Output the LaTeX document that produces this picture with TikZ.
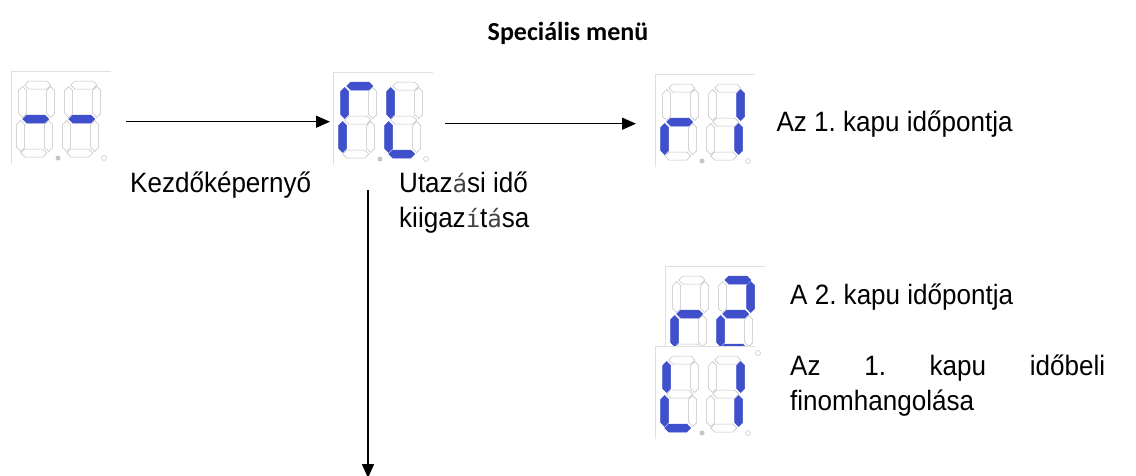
\documentclass[tikz,border=0pt]{standalone}
\usepackage{fontspec}
\setmainfont{Liberation Sans}[FakeStretch=0.93]
\newfontfamily\titlefont{Carlito}
\newfontfamily\oddfont{DejaVu Sans Mono}
\usepackage{xcolor}
\usetikzlibrary{arrows.meta, positioning}
\definecolor{segblue}{RGB}{64,80,204}
\frenchspacing

\newcommand{\oddch}[1]{{\oddfont\fontsize{24}{35}\selectfont\color{black!75}#1}}

\tikzset{
  dispbox/.style={rectangle, fill=white, inner sep=0pt, minimum width=100pt, minimum height=93pt, anchor=north west},
  boxedge/.style={draw=gray!25, line width=0.8pt},
  segoff/.style={draw=gray!50, line width=0.5pt},
  segon/.style={fill=segblue, draw=segblue, line width=0.5pt},
  seg a/.style={segoff}, seg b/.style={segoff}, seg c/.style={segoff}, seg d/.style={segoff},
  seg e/.style={segoff}, seg f/.style={segoff}, seg g/.style={segoff},
  lit/.style={seg #1/.style={segon}},
  hseg/.pic={\path[pic actions] (-13,0) -- (-9,-4) -- (9,-4) -- (13,0) -- (9,4) -- (-9,4) -- cycle;},
  vseg/.pic={\path[pic actions] (0,-15.5) -- (4,-11.5) -- (4,11.5) -- (0,15.5) -- (-4,11.5) -- (-4,-11.5) -- cycle;},
  flow/.style={line width=1.5pt, -{Triangle[length=14pt,width=12pt]}},
  desc/.style={font=\fontsize{28}{35}\selectfont, inner sep=0pt},
}

% one slanted seven-segment digit: #1 origin, #2 lit segments
\newcommand{\onedigit}[2]{%
  \begin{scope}[shift={(#1)}, xslant=0.06, lit/.list={#2}]
    \pic[seg a] at (18,4) {hseg};
    \pic[seg g] at (18,38) {hseg};
    \pic[seg d] at (18,72) {hseg};
    \pic[seg f] at (4,21) {vseg};
    \pic[seg b] at (32,21) {vseg};
    \pic[seg e] at (4,55) {vseg};
    \pic[seg c] at (32,55) {vseg};
  \end{scope}}

% two-digit display: #1 name, #2 top left corner, #3 and #4 lit segments
\newcommand{\segdisplay}[4]{%
  \node[dispbox] (#1) at (#2) {};
  \draw[boxedge] (#1.south west) |- (#1.north east);
  \begin{scope}[shift={(#1.north west)}]
    \onedigit{9,10}{#3}
    \onedigit{55,10}{#4}
    \fill[gray!45] (47,87) circle (2.5pt);
    \draw[gray!45, fill=white, line width=0.5pt] (93,87) circle (2.5pt);
  \end{scope}}

\begin{document}
\begin{tikzpicture}[x=1pt, y=-1pt]
  \useasboundingbox (0,0) rectangle (1136,475);

  \node[font=\fontsize{26}{30}\titlefont\bfseries] (title) at (568,33) {Speciális menü};

  % displays
  \segdisplay{start}{11,71}{g}{g}
  \segdisplay{cl}{333,72}{a,f,e}{f,e,d}
  \segdisplay{r1}{655,74}{g,e}{b,c}
  \segdisplay{r2}{665,266}{g,e}{a,b,g,e,d}
  \segdisplay{l1}{655,346}{f,e,d}{b,c}

  % texts
  \node[desc, anchor=west] (startlabel) at (130,185) {Kezdőképernyő};
  \node[desc, anchor=north west, align=left] (cllabel) at (399,172) {Utaz\oddch{á}si idő\\kiigaz\oddch{í}t\oddch{á}sa};
  \node[desc, anchor=west, right=21pt of r1, yshift=-3pt] (r1label) {Az 1. kapu időpontja};
  \node[desc, anchor=west] (r2label) at (790,297) {A 2. kapu időpontja};
  \node[desc, anchor=north west, text width=315pt, align=justify] (l1label) at (790,355) {Az 1. kapu időbeli\linebreak finomhangolása};

  % connectors
  \coordinate (exitpt) at (368,478);
  \draw[flow, shorten <=15pt, shorten >=3pt] ([yshift=-4pt]start.east) -- ([yshift=-4pt]start.east -| cl.west);
  \draw[flow, shorten <=12pt, shorten >=19pt] ([yshift=-5pt]cl.east) -- ([yshift=-5pt]cl.east -| r1.west);
  \draw[flow, shorten <=25pt] (cl.south -| exitpt) -- (exitpt);
\end{tikzpicture}
\end{document}
